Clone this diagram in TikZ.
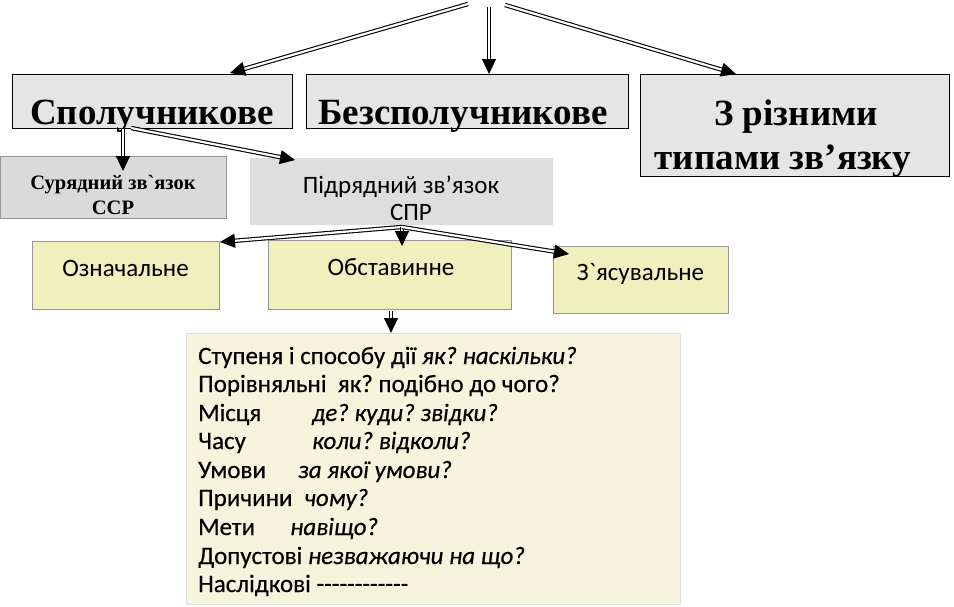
\documentclass[tikz,border=0pt]{standalone}
\usepackage{fontspec}
\setmainfont{Liberation Serif}[Ligatures=TeXOff]
\newfontfamily\carl{Carlito}[Ligatures=TeXOff]
\newfontfamily\carlb{Carlito}[Ligatures=TeXOff, FakeBold=0.4]
\usetikzlibrary{arrows.meta}
\definecolor{topgray}{RGB}{229,229,229}
\definecolor{surgray}{RGB}{218,218,218}
\definecolor{pidgray}{RGB}{222,222,222}
\definecolor{ybox}{RGB}{240,239,190}
\definecolor{yborder}{RGB}{150,150,150}
\definecolor{listfill}{RGB}{246,244,221}
\begin{document}
\frenchspacing
\begin{tikzpicture}[x=1pt,y=-1pt,
  topbox/.style={draw=black, line width=0.8pt, fill=topgray, inner sep=0pt},
  toptext/.style={inner sep=0pt, anchor=base, font=\fontsize{37}{44}\selectfont\bfseries},
  surbox/.style={draw=yborder, line width=0.6pt, fill=surgray, inner sep=0pt},
  surtext/.style={inner sep=0pt, anchor=base, font=\fontsize{20.5}{25}\selectfont\bfseries},
  pidbox/.style={fill=pidgray, inner sep=0pt},
  yelbox/.style={draw=yborder, line width=0.6pt, fill=ybox, inner sep=0pt},
  carltext/.style={inner sep=0pt, anchor=base, font=\carl\fontsize{25}{27}\selectfont},
  listtext/.style={inner sep=0pt, anchor=base west, font=\carlb\fontsize{25}{28}\selectfont},
  darrow/.style={double=white, double distance=2.2pt, line width=1.1pt,
     -{Triangle[length=15pt,width=14pt]}}
]
\useasboundingbox (0,0) rectangle (954,606);
% top level boxes
\node[topbox, minimum width=280pt, minimum height=54pt] (spol) at (152,101) {};
\node[toptext] (spolt) at (152,124) {Сполучникове};
\node[topbox, minimum width=322pt, minimum height=54pt] (bez) at (467,101) {};
\node[toptext] (bezt) at (463,124) {Безсполучникове};
\node[topbox, minimum width=309pt, minimum height=102pt] (riz) at (794.5,125) {};
\node[toptext] (rizt1) at (796,125) {З різними};
\node[toptext] (rizt2) at (783,169) {типами зв’язку};
% second level
\node[surbox, minimum width=226pt, minimum height=62pt] (sur) at (113,187) {};
\node[surtext] (surt1) at (113,189) {Сурядний зв`язок};
\node[surtext] (surt2) at (113,214) {ССР};
\node[pidbox, minimum width=303pt, minimum height=67pt] (pid) at (401.5,191.5) {};
\node[carltext] (pidt1) at (401,193) {Підрядний зв’язок};
\node[carltext] (pidt2) at (411,220) {СПР};
% third level
\node[yelbox, minimum width=187pt, minimum height=68pt] (oz) at (125.5,275) {};
\node[carltext] (ozt) at (125.5,276) {Означальне};
\node[yelbox, minimum width=243pt, minimum height=69pt] (ob) at (389.5,274.5) {};
\node[carltext] (obt) at (391,275) {Обставинне};
\node[yelbox, minimum width=175pt, minimum height=67pt] (zya) at (640.5,279.5) {};
\node[carltext] (zyat) at (640.5,280) {З`ясувальне};
% list box
\node[draw=black!12, line width=0.5pt, fill=listfill, inner sep=0pt, minimum width=494pt, minimum height=271pt] (list) at (433,468.5) {};
\node[listtext] (l1) at (198,364) {Ступеня і способу дії \textit{як? наскільки?}};
\node[listtext] (l2) at (198,392) {Порівняльні\ \ як? подібно до чого?};
\node[listtext] (l3) at (198,421) {\makebox[114pt][l]{Місця}\textit{де? куди? звідки?}};
\node[listtext] (l4) at (198,449) {\makebox[114pt][l]{Часу}\textit{коли? відколи?}};
\node[listtext] (l5) at (198,478) {\makebox[100pt][l]{Умови}\textit{за якої умови?}};
\node[listtext] (l6) at (198,506) {\makebox[106pt][l]{Причини}\textit{чому?}};
\node[listtext] (l7) at (198,535) {\makebox[92pt][l]{Мети}\textit{навіщо?}};
\node[listtext] (l8) at (198,564) {Допустові \textit{незважаючи на що?}};
\node[listtext] (l9) at (198,592) {Наслідкові ------------};
% arrow coordinates
\coordinate (t1) at (468,4);
\coordinate (t2) at (489,7);
\coordinate (t3) at (505,5);
\coordinate (spolA) at (123,129);
\coordinate (surT) at (123,171);
\coordinate (spolB) at (131,128);
\coordinate (pidT) at (295,160);
\coordinate (spr) at (402,227);
\coordinate (ozT) at (220,242);
\coordinate (obT) at (402,246);
\coordinate (zyaT) at (569,254);
\coordinate (obB) at (391,311);
\coordinate (listT) at (391,333);
\coordinate (spolT) at (230,73);
\coordinate (bezT) at (489,74);
\coordinate (rizT) at (736,74);
% arrows
\draw[darrow] (t1) -- (spolT);
\draw[darrow] (t2) -- (bezT);
\draw[darrow] (t3) -- (rizT);
\draw[darrow] (spolA) -- (surT);
\draw[darrow] (spolB) -- (pidT);
\draw[darrow] (spr) -- (ozT);
\draw[darrow] (spr) -- (obT);
\draw[darrow] (spr) -- (zyaT);
\draw[darrow] (obB) -- (listT);
\end{tikzpicture}
\end{document}
